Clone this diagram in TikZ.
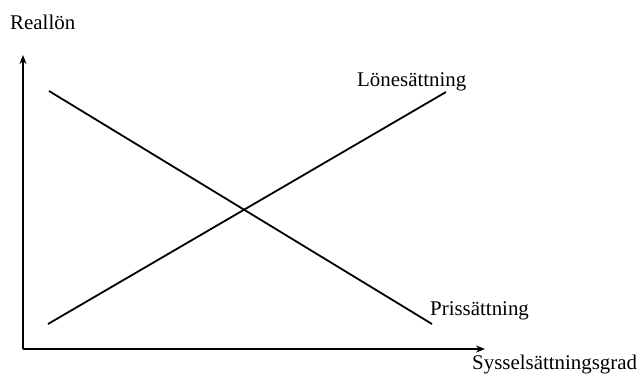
\documentclass[tikz,border=0pt]{standalone}
\usepackage{fontspec}
\setmainfont{Liberation Serif}
\usetikzlibrary{arrows.meta}
\begin{document}
\begin{tikzpicture}[x=1pt,y=-1pt,
  lbl/.style={inner sep=0pt,anchor=base west,font=\fontsize{20.9}{22}\selectfont},
  axis/.style={line width=1.8pt,-{Stealth[length=9pt,width=7pt]}},
  curve/.style={line width=1.8pt}]
\useasboundingbox (0,0) rectangle (640,376);
\coordinate (O) at (23,349);
\coordinate (Ytop) at (23,55);
\coordinate (Xend) at (485,349);
\coordinate (P1) at (49,91);
\coordinate (P2) at (432,324);
\coordinate (L1) at (48,324);
\coordinate (L2) at (446,92);
\draw[axis] (O) -- (Ytop);
\draw[axis] (O) -- (Xend);
\draw[curve] (P1) -- (P2);
\draw[curve] (L1) -- (L2);
\node[lbl] (reallon) at (10,29) {Reallön};
\node[lbl] (lone) at (357,86) {Lönesättning};
\node[lbl] (pris) at (430,315) {Prissättning};
\node[lbl] (syss) at (472,369) {Sysselsättningsgrad};
\end{tikzpicture}
\end{document}
